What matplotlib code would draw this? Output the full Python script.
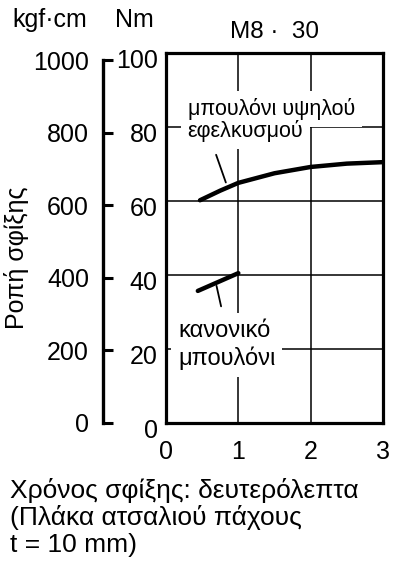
import numpy as np
import matplotlib
matplotlib.use('Agg')
import matplotlib.pyplot as plt
from matplotlib.transforms import ScaledTranslation

plt.rcParams['font.family'] = ['Liberation Sans', 'DejaVu Sans']

# data
high_x = [0.47, 0.75, 1.0, 1.5, 2.0, 2.5, 3.0]
high_y = [60.2, 62.8, 64.9, 67.5, 69.2, 70.1, 70.5]
norm_x = [0.44, 1.0]
norm_y = [35.7, 40.5]

x_ticks = [0, 1, 2, 3]
nm_ticks = [0, 20, 40, 60, 80, 100]
kgf_ticks = [0, 200, 400, 600, 800, 1000]
KGF_TO_NM = 0.0980665

title = 'M8 ·  30'
high_lines = ['μπουλόνι υψηλού', 'εφελκυσμού']
norm_lines = ['κανονικό', 'μπουλόνι']
ylabel = 'Ροπή σφίξης'
caption = 'Χρόνος σφίξης: δευτερόλεπτα\n(Πλάκα ατσαλιού πάχους\nt = 10 mm)'

fig = plt.figure(figsize=(3.96, 5.65), dpi=100)
W, H = 396, 565

def box(x0, y0, x1, y1):
    return [x0 / W, 1 - y1 / H, (x1 - x0) / W, (y1 - y0) / H]

ax = fig.add_axes(box(166, 53, 383, 423))
ax.set_xlim(0, 3)
ax.set_ylim(0, 100)
ax.set_xticks(x_ticks)
ax.set_yticks(nm_ticks)
ax.tick_params(axis='both', length=0, labelsize=18)
ax.tick_params(axis='x', pad=12)
ax.tick_params(axis='y', pad=6)
for lab in ax.get_yticklabels():
    lab.set_transform(lab.get_transform() + ScaledTranslation(0, -6 / 100, fig.dpi_scale_trans))
for s in ax.spines.values():
    s.set_linewidth(2.3)
ax.grid(True, color='black', lw=1.1)

ax.plot(high_x, high_y, color='black', lw=3.2, solid_capstyle='round', zorder=4)
ax.plot(norm_x, norm_y, color='black', lw=3.2, solid_capstyle='round', zorder=4)

# leader lines
ax.annotate('', xy=(0.84, 64.3), xytext=(0.68, 73.2),
            arrowprops=dict(arrowstyle='-', lw=1.3, color='black'))
ax.annotate('', xy=(0.69, 37.8), xytext=(0.77, 30.8),
            arrowprops=dict(arrowstyle='-', lw=1.3, color='black'))

# curve labels, one text per line so the grid is cut only behind the words;
# white boxes first, then the words on top of them
labels = [(high_lines, [83.2, 77.3], 0.30, 15.5), (norm_lines, [23.2, 15.7], 0.165, 17)]
for lines, ys, x, fs in labels:
    for txt, y in zip(lines, ys):
        ax.text(x, y, txt, fontsize=fs, ha='left', va='baseline', color='none',
                bbox=dict(facecolor='white', edgecolor='none', pad=5), zorder=3)
        ax.text(x, y, txt, fontsize=fs, ha='left', va='baseline', color='black', zorder=3.5)

ax.set_title(title, fontsize=17.5, pad=11)

# kgf*cm scale
ax_k = fig.add_axes(box(103, 53, 113, 423))
ax_k.set_ylim(0, 100 / KGF_TO_NM)
ax_k.patch.set_visible(False)
for side in ['top', 'right', 'bottom']:
    ax_k.spines[side].set_visible(False)
ax_k.spines['left'].set_bounds(0, 1000)
ax_k.spines['left'].set_linewidth(2.4)
ax_k.spines['left'].set_capstyle('projecting')
ax_k.set_xticks([])
ax_k.set_yticks(kgf_ticks)
ax_k.tick_params(axis='y', direction='in', length=7, width=2.2, pad=10, labelsize=18)

fig.text(12 / W, 1 - 20 / H, 'kgf·cm', fontsize=18, ha='left', va='center')
fig.text(134 / W, 1 - 20 / H, 'Nm', fontsize=18, ha='center', va='center')
fig.text(17 / W, 1 - 258 / H, ylabel, fontsize=18, rotation=90, ha='center', va='center')
fig.text(10 / W, 1 - 478 / H, caption, fontsize=19, ha='left', va='top', linespacing=1.12)

fig.savefig('out.png', dpi=100)
